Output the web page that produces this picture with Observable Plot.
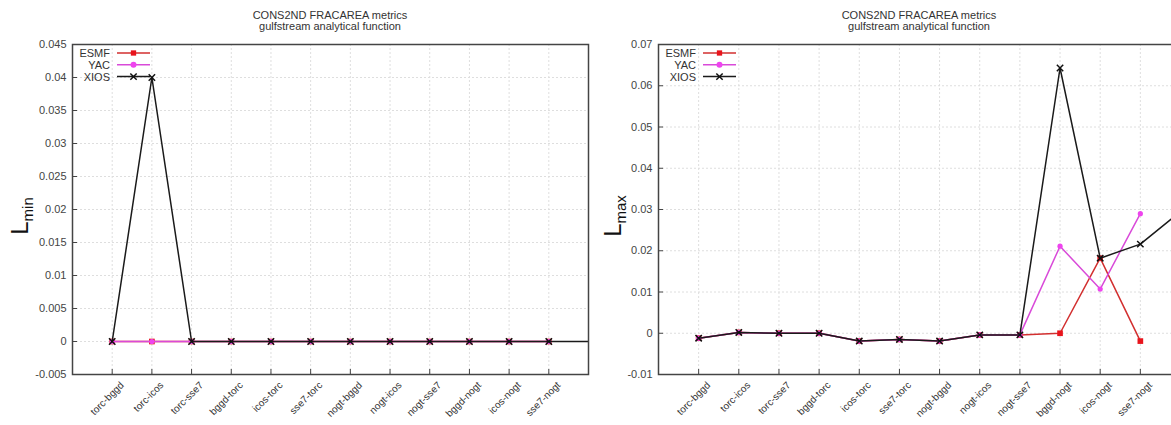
<!DOCTYPE html>
<html>
<head>
<meta charset="utf-8">
<script src="https://cdn.jsdelivr.net/npm/d3@7"></script>
<script src="https://cdn.jsdelivr.net/npm/@observablehq/plot@0.6"></script>
<style>
  html, body { margin: 0; padding: 0; background: #fff; }
  #root { position: relative; width: 1171px; height: 425px; overflow: hidden; background: #fff;
          font-family: "Liberation Sans", Arial, Helvetica, sans-serif; color: #333; }
  .panel { position: absolute; top: 0; }
  .title { box-sizing: border-box; height: 36px; padding-top: 10px; font-size: 11px; line-height: 11px;
           text-align: center; color: #333; }
  .panel svg { display: block; }
  .ylab { position: absolute; transform: translate(-50%, -50%) rotate(-90deg); white-space: nowrap;
          font-size: 24px; color: #111; line-height: 1; }
  .ylab sub { font-size: 15px; vertical-align: -5px; }
  .legend { position: absolute; }
</style>
</head>
<body>
<div id="root"></div>
<script>
// ---------- data ----------
const categories = ["torc-bggd","torc-icos","torc-sse7","bggd-torc","icos-torc","sse7-torc",
                    "nogt-bggd","nogt-icos","nogt-sse7","bggd-nogt","icos-nogt","sse7-nogt"];
const seriesNames = ["ESMF","YAC","XIOS"];

// L_min panel
const lminESMF = [0,0,0,0,0,0,0,0,0,0,0,0];
const lminYAC  = [0,0,0,0,0,0,0,0,0,0,0,0];
const lminXIOS = [0,0.04,0,0,0,0,0,0,0,0,0,0,0]; // last value lies past the last label
const lminTicks = [-0.005,0,0.005,0.01,0.015,0.02,0.025,0.03,0.035,0.04,0.045];

// L_max panel
const lmaxESMF = [-0.0012,0.0002,0,0,-0.0019,-0.0015,-0.0019,-0.0004,-0.0004,0,0.0182,-0.0019];
const lmaxYAC  = [-0.0012,0.0002,0,0,-0.0019,-0.0015,-0.0019,-0.0004,-0.0004,0.0211,0.0107,0.029];
const lmaxXIOS = [-0.0012,0.0002,0,0,-0.0019,-0.0015,-0.0019,-0.0004,-0.0004,0.0643,0.0182,0.0216,0.0295];
const lmaxTicks = [-0.01,0,0.01,0.02,0.03,0.04,0.05,0.06,0.07];

const titleLines = ["CONS2ND FRACAREA metrics", "gulfstream analytical function"];

// ---------- styles ----------
const lineColor = {ESMF: "#d22f2f", YAC: "#d94ad9", XIOS: "#1a1a1a"};
const markColor = {ESMF: "#e8141c", YAC: "#ee44ee", XIOS: "#111"};
const symbolOf = {ESMF: "square", YAC: "circle", XIOS: "times"};
const fmt = d => String(+d.toFixed(4));

function buildPanel({left, width, ml, mr, values, ticks, sub, ylabX}) {
  const panel = document.createElement("div");
  panel.className = "panel";
  panel.style.left = left + "px";
  panel.style.width = width + "px";

  const title = document.createElement("div");
  title.className = "title";
  title.style.paddingLeft = ml + "px";
  title.style.paddingRight = mr + "px";
  title.innerHTML = titleLines.join("<br>");
  panel.appendChild(title);

  const marks = [
    Plot.gridX(d3.range(categories.length), {stroke: "#dedede", strokeOpacity: 1, strokeDasharray: "2,2"}),
    Plot.gridY(ticks, {stroke: "#dedede", strokeOpacity: 1, strokeDasharray: "2,2"}),
    Plot.axisY(ticks, {tickSize: -5, tickPadding: 11, tickFormat: fmt, color: "#444", fontSize: 11, label: null}),
    Plot.axisX(d3.range(categories.length), {tickSize: -5, tickFormat: () => "", color: "#444", label: null}),
    Plot.text(categories, {x: (d, i) => i, frameAnchor: "bottom", text: d => d, rotate: -45,
                           textAnchor: "end", lineAnchor: "middle", dx: 10, dy: 9, fontSize: 10, fill: "#333"})
  ];
  seriesNames.forEach((s, k) => {
    const rows = values[k].map((v, i) => ({i, v}));
    marks.push(Plot.line(rows, {x: "i", y: "v", stroke: lineColor[s], strokeWidth: 1.5, clip: true}));
    const pts = rows.filter(d => d.i < categories.length);
    if (s === "XIOS") {
      marks.push(Plot.dot(pts, {x: "i", y: "v", symbol: "times", stroke: markColor[s], strokeWidth: 1.5, r: 3}));
    } else {
      marks.push(Plot.dot(pts, {x: "i", y: "v", symbol: symbolOf[s], fill: markColor[s], stroke: "none", r: s === "ESMF" ? 3.2 : 2.6}));
    }
  });
  marks.push(Plot.frame({stroke: "#444", strokeWidth: 1.5}));

  const chart = Plot.plot({
    width, height: 389,
    marginLeft: ml, marginRight: mr, marginTop: 8, marginBottom: 51,
    style: {fontFamily: "'Liberation Sans', Arial, sans-serif", fontSize: "11px", color: "#333", background: "#fff", overflow: "visible"},
    x: {type: "linear", domain: [-1, categories.length], axis: null},
    y: {domain: [ticks[0], ticks[ticks.length - 1]], axis: null},
    marks
  });
  panel.appendChild(chart);

  // y label
  const yl = document.createElement("div");
  yl.className = "ylab";
  yl.innerHTML = "L<sub>" + sub + "</sub>";
  yl.style.left = ylabX + "px";
  yl.style.top = "216px";
  panel.appendChild(yl);

  // legend
  const ns = "http://www.w3.org/2000/svg";
  const lg = document.createElementNS(ns, "svg");
  lg.setAttribute("class", "legend");
  lg.setAttribute("width", 90);
  lg.setAttribute("height", 40);
  lg.style.left = ml + "px";
  lg.style.top = "45px";
  seriesNames.forEach((s, k) => {
    const y = 8 + k * 11.8;
    const t = document.createElementNS(ns, "text");
    t.setAttribute("x", 38); t.setAttribute("y", y);
    t.setAttribute("text-anchor", "end"); t.setAttribute("dominant-baseline", "central");
    t.setAttribute("font-size", 11); t.setAttribute("fill", "#333");
    t.setAttribute("font-family", "'Liberation Sans', Arial, sans-serif");
    t.textContent = s;
    lg.appendChild(t);
    const l = document.createElementNS(ns, "line");
    l.setAttribute("x1", 45); l.setAttribute("x2", 78); l.setAttribute("y1", y); l.setAttribute("y2", y);
    l.setAttribute("stroke", lineColor[s]); l.setAttribute("stroke-width", 1.5);
    lg.appendChild(l);
    const sym = d3.symbol().type(s === "ESMF" ? d3.symbolSquare : s === "YAC" ? d3.symbolCircle : d3.symbolTimes)
                  .size(s === "XIOS" ? 28 : 28)();
    const p = document.createElementNS(ns, "path");
    p.setAttribute("d", sym);
    p.setAttribute("transform", `translate(61.5,${y})`);
    if (s === "XIOS") { p.setAttribute("fill", "none"); p.setAttribute("stroke", markColor[s]); p.setAttribute("stroke-width", 1.5); }
    else p.setAttribute("fill", markColor[s]);
    lg.appendChild(p);
  });
  panel.appendChild(lg);

  document.getElementById("root").appendChild(panel);
}

buildPanel({left: 0, width: 590, ml: 72, mr: 2, values: [lminESMF, lminYAC, lminXIOS], ticks: lminTicks, sub: "min", ylabX: 21});
buildPanel({left: 590, width: 600, ml: 68, mr: 10, values: [lmaxESMF, lmaxYAC, lmaxXIOS], ticks: lmaxTicks, sub: "max", ylabX: 24});
</script>
</body>
</html>
